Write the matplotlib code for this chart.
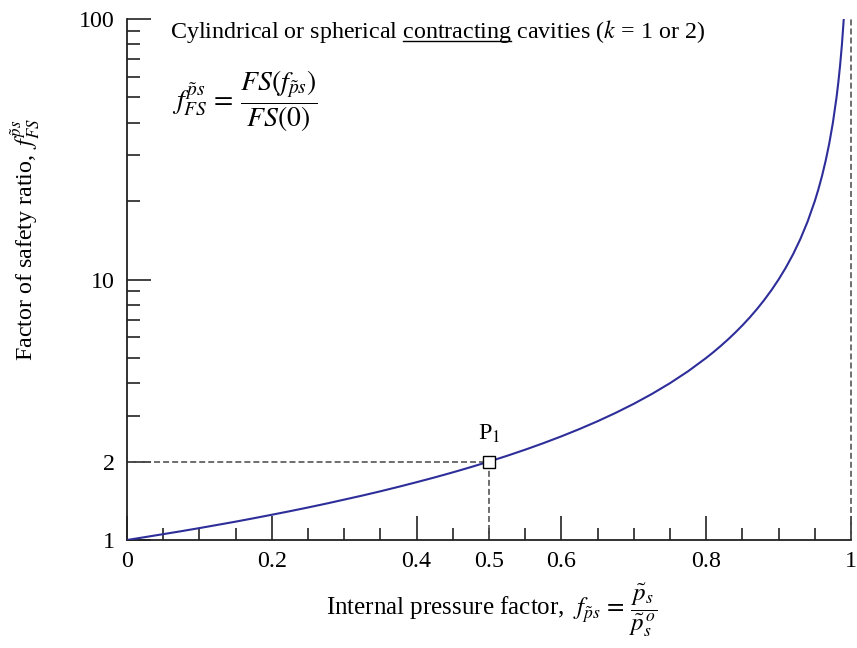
import matplotlib
matplotlib.use("Agg")
import matplotlib.pyplot as plt
from matplotlib.ticker import FixedLocator, FuncFormatter, NullFormatter
import matplotlib.lines as mlines

plt.rcParams['font.family'] = ['Liberation Serif', 'DejaVu Serif']
plt.rcParams['mathtext.fontset'] = 'stix'
plt.rcParams['lines.scale_dashes'] = False

# Data
pressure_factor = [0.0, 0.025, 0.05, 0.075, 0.10, 0.125, 0.15, 0.175, 0.20, 0.225, 0.25,
                   0.275, 0.30, 0.325, 0.35, 0.375, 0.40, 0.425, 0.45, 0.475, 0.50,
                   0.525, 0.55, 0.575, 0.60, 0.625, 0.65, 0.675, 0.70, 0.725, 0.75,
                   0.775, 0.80, 0.81, 0.82, 0.83, 0.84, 0.85, 0.86, 0.87, 0.88, 0.89,
                   0.90, 0.91, 0.92, 0.93, 0.94, 0.95, 0.955, 0.96, 0.965, 0.97,
                   0.975, 0.98, 0.9825, 0.985, 0.9875, 0.99]
fs_ratio = [1.000, 1.026, 1.053, 1.081, 1.111, 1.143, 1.176, 1.212, 1.250, 1.290, 1.333,
            1.379, 1.429, 1.481, 1.538, 1.600, 1.667, 1.739, 1.818, 1.905, 2.000,
            2.105, 2.222, 2.353, 2.500, 2.667, 2.857, 3.077, 3.333, 3.636, 4.000,
            4.444, 5.000, 5.263, 5.556, 5.882, 6.250, 6.667, 7.143, 7.692, 8.333, 9.091,
            10.00, 11.11, 12.50, 14.29, 16.67, 20.00, 22.22, 25.00, 28.57, 33.33,
            40.00, 50.00, 57.14, 66.67, 80.00, 100.0]
point_p1 = (0.5, 2.0)
x_major = [0, 0.2, 0.4, 0.6, 0.8, 1.0]
x_major_labels = ["0", "0.2", "0.4", "0.6", "0.8", "1"]
x_minor = [0.05, 0.1, 0.15, 0.25, 0.3, 0.35, 0.45, 0.5, 0.55, 0.65, 0.7, 0.75, 0.85, 0.9, 0.95]
y_major = [1, 2, 10, 100]
y_major_labels = ["1", "2", "10", "100"]
y_minor = [3, 4, 5, 6, 7, 8, 9, 20, 30, 40, 50, 60, 70, 80, 90]

W, H = 857, 648
fig = plt.figure(figsize=(W / 100, H / 100), dpi=100)
ax = fig.add_axes([127 / W, 1 - 540 / H, 724 / W, 521 / H])

curve_color = '#2e2e9a'
dash_color = '#555555'
fs = 17.3
fsm = 18

ax.set_yscale('log')
ax.set_xlim(0, 1)
ax.set_ylim(1, 100)

ax.plot(pressure_factor, fs_ratio, color=curve_color, lw=1.5, zorder=3)

# Dashed guide lines
ax.plot([0, point_p1[0]], [point_p1[1], point_p1[1]], color=dash_color, lw=1.2,
        dashes=(4.3, 2.2), zorder=2)
ax.plot([point_p1[0], point_p1[0]], [1, point_p1[1]], color=dash_color, lw=1.2,
        dashes=(4.3, 2.2), zorder=2)
ax.plot([1, 1], [1, 100], color=dash_color, lw=1.2, dashes=(4.3, 2.2), zorder=2,
        clip_on=False)

ax.plot([point_p1[0]], [point_p1[1]], marker='s', markersize=8.5, markerfacecolor='white',
        markeredgecolor='black', markeredgewidth=1.0, zorder=5)
ax.annotate("P$_1$", xy=point_p1, xytext=(0, 12), textcoords='offset points',
            ha='center', va='bottom', fontsize=fs)

# Spines
for s in ['top', 'right']:
    ax.spines[s].set_visible(False)
for s in ['left', 'bottom']:
    ax.spines[s].set_linewidth(1.3)
    ax.spines[s].set_color('#222222')

# Ticks
ax.xaxis.set_major_locator(FixedLocator(x_major))
ax.set_xticklabels(x_major_labels)
ax.xaxis.set_minor_locator(FixedLocator(x_minor))
ax.xaxis.set_minor_formatter(FuncFormatter(lambda v, p: "0.5" if abs(v - 0.5) < 1e-9 else ""))

ax.yaxis.set_major_locator(FixedLocator(y_major))
ax.set_yticklabels(y_major_labels)
ax.yaxis.set_minor_locator(FixedLocator(y_minor))
ax.yaxis.set_minor_formatter(NullFormatter())

ax.tick_params(which='both', direction='in', colors='#222222', labelcolor='black',
               labelsize=fs, width=1.2, pad=8)
ax.tick_params(which='major', length=17)
ax.tick_params(which='minor', length=9)
ax.tick_params(axis='y', which='both', pad=9)

# Axis labels
fig.text(25 / W, 1 - 240 / H, r"Factor of safety ratio, $\,f_{FS}^{\tilde{p}s}$",
         rotation=90, ha='center', va='center', fontsize=fs)
fig.text(492 / W, 1 - 610 / H,
         r"Internal pressure factor,  $f_{\tilde{p}s}\,=\,\dfrac{\tilde{p}_s}{\tilde{p}_s^{\,o}}$",
         ha='center', va='center', fontsize=fsm)

# Annotation text with underline
x0_px, base_px = 170, 38
title = ax.text(x0_px / W, 1 - base_px / H,
                r"Cylindrical or spherical contracting cavities ($k$ = 1 or 2)",
                transform=fig.transFigure, fontsize=fs, va='baseline', ha='left')
fig.canvas.draw()
r = fig.canvas.get_renderer()
tmp1 = fig.text(0, 0, "Cylindrical or spherical contracting", fontsize=fs)
tmp2 = fig.text(0, 0, "contracting", fontsize=fs)
w1 = tmp1.get_window_extent(r).width
w2 = tmp2.get_window_extent(r).width
tmp1.remove()
tmp2.remove()
ux1 = x0_px + w1
ux0 = ux1 - w2
uy = base_px + 3
fig.add_artist(mlines.Line2D([ux0 / W, ux1 / W], [1 - uy / H, 1 - uy / H],
                             transform=fig.transFigure, color='black', lw=1.0))

fig.text(172 / W, 1 - 101 / H,
         r"$f_{FS}^{\tilde{p}s}\,=\,\dfrac{FS(f_{\tilde{p}s})}{FS(0)}$",
         ha='left', va='center', fontsize=20)

fig.savefig("out.png", dpi=100)
